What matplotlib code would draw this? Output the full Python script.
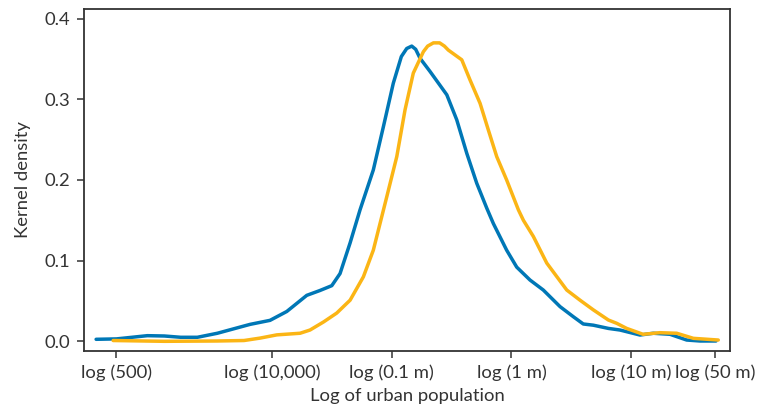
import matplotlib
matplotlib.use("Agg")
import matplotlib.pyplot as plt

plt.rcParams['font.family'] = ['Lato', 'DejaVu Sans']

# x = log10(urban population), y = kernel density
blue_x = [2.530, 2.70, 2.958, 3.10, 3.237, 3.376, 3.543, 3.766, 3.816, 3.983, 4.123,
          4.29, 4.40, 4.499, 4.568, 4.652, 4.735, 4.846, 4.93, 5.013, 5.08, 5.125, 5.167,
          5.20, 5.236, 5.32, 5.40, 5.46, 5.543, 5.627, 5.71, 5.794, 5.849, 5.96, 6.044,
          6.155, 6.266, 6.406, 6.517, 6.60, 6.684, 6.81, 6.907, 7.074, 7.185, 7.325,
          7.464, 7.576, 7.709]
blue_y = [0.0025, 0.003, 0.007, 0.0066, 0.005, 0.005, 0.010, 0.019, 0.021, 0.026, 0.037,
          0.057, 0.063, 0.069, 0.084, 0.122, 0.163, 0.2125, 0.266, 0.320, 0.353, 0.363, 0.366,
          0.362, 0.351, 0.3345, 0.318, 0.3056, 0.2746, 0.233, 0.196, 0.165, 0.146, 0.113, 0.092,
          0.076, 0.0636, 0.043, 0.0305, 0.0215, 0.020, 0.016, 0.014, 0.0078, 0.010, 0.0087,
          0.0016, 0.0004, 0.0004]

orange_x = [2.672, 3.10, 3.54, 3.766, 3.90, 4.04, 4.234, 4.317, 4.43, 4.54, 4.652,
            4.763, 4.846, 4.958, 5.042, 5.111, 5.18, 5.264, 5.30, 5.348, 5.40, 5.44, 5.473,
            5.529, 5.585, 5.654, 5.738, 5.807, 5.877, 5.96, 6.058, 6.10, 6.183, 6.295, 6.462,
            6.573, 6.684, 6.81, 6.88, 6.963, 7.10, 7.24, 7.381, 7.52, 7.728]
orange_y = [0.001, 0.0, 0.0004, 0.001, 0.004, 0.008, 0.010, 0.014, 0.024, 0.035, 0.051,
            0.080, 0.113, 0.179, 0.229, 0.287, 0.3325, 0.359, 0.366, 0.370, 0.370, 0.366, 0.361,
            0.355, 0.349, 0.324, 0.295, 0.262, 0.229, 0.200, 0.163, 0.150, 0.130, 0.097, 0.0636,
            0.051, 0.039, 0.0264, 0.0223, 0.016, 0.0087, 0.0107, 0.010, 0.0037, 0.0016]

x_ticks = [2.69897, 4.0, 5.0, 6.0, 7.0, 7.69897]
x_tick_labels = ['log (500)', 'log (10,000)', 'log (0.1 m)', 'log (1 m)', 'log (10 m)', 'log (50 m)']
y_ticks = [0.0, 0.1, 0.2, 0.3, 0.4]
y_tick_labels = ['0.0', '0.1', '0.2', '0.3', '0.4']

text_color = '#333333'

fig = plt.figure(figsize=(7.66, 4.16), dpi=100)
ax = fig.add_axes([0.1097, 0.15625, 0.953 - 0.1097, 0.9784 - 0.15625])

ax.plot(blue_x, blue_y, color='#0077b6', lw=2.5, solid_joinstyle='round', solid_capstyle='round')
ax.plot(orange_x, orange_y, color='#fbb515', lw=2.5, solid_joinstyle='round', solid_capstyle='round')

ax.set_xlim(2.429, 7.826)
ax.set_ylim(-0.012, 0.412)
ax.set_xticks(x_ticks)
ax.set_xticklabels(x_tick_labels)
ax.set_yticks(y_ticks)
ax.set_yticklabels(y_tick_labels)

for s in ax.spines.values():
    s.set_color('#333333')
    s.set_linewidth(1.3)

ax.tick_params(axis='both', direction='out', length=5, width=1.1, color='#333333',
               labelsize=13.3, labelcolor=text_color, pad=5)

ax.set_xlabel('Log of urban population', fontsize=13.3, color=text_color, labelpad=5)
ax.set_ylabel('Kernel density', fontsize=13.3, color=text_color, labelpad=10)

fig.savefig('out.png', dpi=100)
